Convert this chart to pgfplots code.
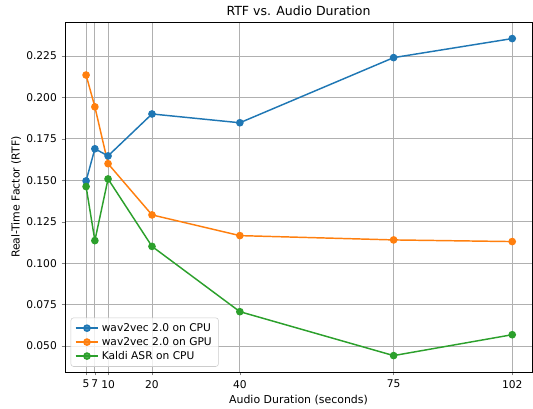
\documentclass[border=0pt]{standalone}
\usepackage{pgfplots}
\pgfplotsset{compat=1.18}
\usepackage{fontspec}
\setmainfont{DejaVu Sans}
\definecolor{tblue}{HTML}{1F77B4}
\definecolor{torange}{HTML}{FF7F0E}
\definecolor{tgreen}{HTML}{2CA02C}
\begin{document}
\begin{tikzpicture}
\useasboundingbox (-48.75pt,-27pt) rectangle (351pt,279pt);
\begin{axis}[
  at={(0,0)}, anchor=south west,
  scale only axis, width=350.25pt, height=262.5pt,
  xmin=0.2, xmax=106.5, ymin=0.0343, ymax=0.2455,
  xtick={5,7,10,20,40,75,102},
  ytick={0.050,0.075,0.100,0.125,0.150,0.175,0.200,0.225},
  yticklabel style={/pgf/number format/.cd, fixed, fixed zerofill, precision=3},
  /pgf/number format/assume math mode=true,
  tick label style={font=\fontsize{8}{9}\selectfont},
  label style={font=\fontsize{8.2}{9}\selectfont},
  xlabel style={yshift=1.5pt},
  ylabel style={yshift=-3pt},
  title style={font=\fontsize{9.4}{11}\selectfont, yshift=-5pt},
  title={RTF vs. Audio Duration},
  xlabel={Audio Duration (seconds)},
  ylabel={Real-Time Factor (RTF)},
  grid=major,
  major grid style={color=black!31, line width=0.6pt},
  tick align=outside, tick pos=left,
  major tick length=2.6pt,
  axis line style={line width=0.6pt},
  legend style={font=\fontsize{8}{9}\selectfont, draw=black!20, rounded corners=2pt, fill=white, fill opacity=0.8, text opacity=1, at={(0.012,0.015)}, anchor=south west, row sep=-1pt},
  legend cell align=left,
  every axis plot/.append style={line width=1.1pt, mark=*, mark size=2.3pt},
]
\addplot[color=tblue, mark options={fill=tblue}] coordinates {
(5,0.1496) (7,0.169) (10,0.1647) (20,0.190) (40,0.1847) (75,0.224) (102,0.2355)};
\addlegendentry{wav2vec 2.0 on CPU}
\addplot[color=torange, mark options={fill=torange}] coordinates {
(5,0.2135) (7,0.1943) (10,0.160) (20,0.1291) (40,0.1166) (75,0.1140) (102,0.1130)};
\addlegendentry{wav2vec 2.0 on GPU}
\addplot[color=tgreen, mark options={fill=tgreen}] coordinates {
(5,0.1462) (7,0.1136) (10,0.1508) (20,0.1101) (40,0.0707) (75,0.0442) (102,0.0568)};
\addlegendentry{Kaldi ASR on CPU}
\end{axis}
\end{tikzpicture}
\end{document}
